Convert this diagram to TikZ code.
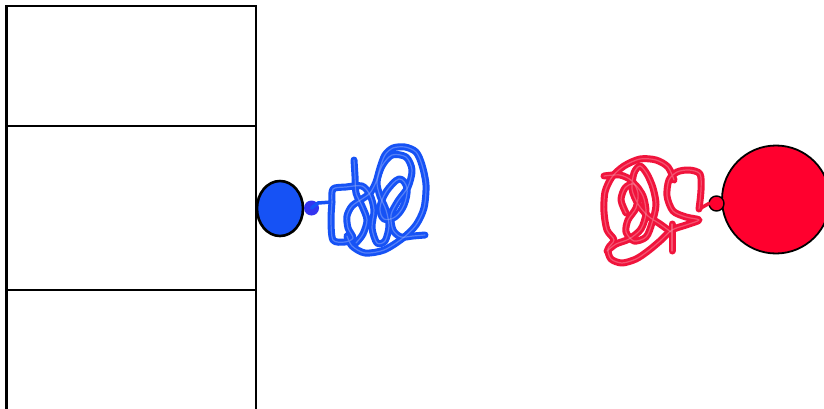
\documentclass[tikz,border=0pt]{standalone}
\usetikzlibrary{shapes.geometric}
\definecolor{inkblue}{HTML}{1652F5}
\definecolor{dotblue}{HTML}{3434F0}
\definecolor{inkred}{HTML}{FF002E}
\definecolor{scribred}{HTML}{F0143C}
\begin{document}
\begin{tikzpicture}[x=1pt,y=-1pt,
  panel/.style={draw=black,line width=2.6pt,fill=white,rectangle,
    minimum width=249.5pt,inner sep=0pt,outer sep=0pt},
  knob/.style={draw=black,line width=2.6pt,ellipse,inner sep=0pt,outer sep=0pt},
  pin/.style={circle,inner sep=0pt,outer sep=0pt},
  scribble/.style={line width=7pt,line cap=round,line join=round},
  sheen/.style={line width=1.2pt,line cap=round,line join=round,opacity=0.45},
  % blue tangle, drawn as several overlapping strokes
  bluea/.style={insert path={plot[smooth,tension=0.5] coordinates {
    (332,202) (331,220) (333,240) (345,242) (353,238) (348,228) (347,216)
    (352,206) (362,199) (370,193) (376,182) (380,168) (385,155) (393,148)
    (405,147) (416,152) (422,165) (426,185) (424,208) (416,225) (403,238)
    (384,250) (365,253) (352,246) (347,236)}}},
  blueb/.style={insert path={plot[smooth,tension=0.5] coordinates {
    (332,202) (333,189) (346,187) (362,186) (370,195) (374,210) (372,228)
    (377,243) (385,241) (389,226) (386,210) (380,196) (377,182) (382,166)
    (392,155) (406,157) (412,170) (408,187) (398,201) (391,215) (393,230)
    (401,237) (413,236) (425,235)}}},
  bluec/.style={insert path={plot[smooth,tension=0.5] coordinates {
    (354,160) (355,176) (356,193) (362,206) (367,220) (363,234) (356,243)}}},
  blued/.style={insert path={plot[smooth cycle,tension=0.6] coordinates {
    (399,179) (407,188) (404,205) (395,217) (384,219) (380,208) (386,192)}}},
  % red tangle
  reda/.style={insert path={plot[smooth,tension=0.5] coordinates {
    (699,209) (701,190) (700,174) (689,170) (677,172) (669,180) (667,196)
    (673,211) (686,217) (699,220) (686,225) (672,230) (660,241) (648,251)
    (636,259) (622,263) (611,259) (608,249) (614,240) (607,230) (604,212)
    (605,192) (612,177) (624,166) (640,159) (656,160) (668,167) (674,180)}}},
  redb/.style={insert path={plot[smooth,tension=0.5] coordinates {
    (604,176) (620,175) (632,181) (638,193) (636,208) (628,220) (626,232)
    (634,241) (646,237) (652,223) (656,205) (653,188) (647,174) (640,166)
    (634,173) (632,189) (638,204) (648,216) (660,224) (671,232)}}},
  redc/.style={insert path={plot[smooth,tension=0.5] coordinates {
    (672,224) (672,238) (672,251)}}},
  redd/.style={insert path={plot[smooth,tension=0.5] coordinates {
    (626,213) (621,200) (625,188) (634,184) (643,196) (646,213) (641,229)
    (629,239) (616,244) (607,251)}}}]
\clip (0,0) rectangle (824,409);
\fill[white] (0,0) rectangle (824,409);

% stacked panels on the left
\node[panel,minimum height=120pt] (top) at (131.25,66) {};
\node[panel,minimum height=164pt] (mid) at (131.25,208) {};
\node[panel,minimum height=130pt] (low) at (131.25,355) {};

% blue side
\node[knob,fill=inkblue,minimum width=46pt,minimum height=55pt] (bknob) at (280,208.5) {};
\node[pin,fill=dotblue,minimum size=15pt] (bdot) at (311.5,208) {};
\draw[line width=3.5pt,inkblue,line cap=round] (bdot.center) -- (318,203) -- (332,202);
\foreach \s in {bluea,blueb,bluec,blued}
  \draw[scribble,inkblue] [\s];
\foreach \s in {bluea,blueb,bluec,blued}
  \draw[sheen,inkblue!40!white] [\s];

% red side
\node[circle,draw=black,line width=1.8pt,fill=inkred,minimum size=108pt,
  inner sep=0pt,outer sep=0pt] (rball) at (776,199.5) {};
\node[pin,draw=black,line width=1.4pt,fill=inkred,minimum size=15pt] (rdot) at (716.5,203.5) {};
\draw[line width=3.5pt,scribred,line cap=round] (rdot.west) -- (699,209);
\foreach \s in {reda,redb,redc,redd}
  \draw[scribble,scribred] [\s];
\foreach \s in {reda,redb,redc,redd}
  \draw[sheen,scribred!40!white] [\s];
\end{tikzpicture}
\end{document}
